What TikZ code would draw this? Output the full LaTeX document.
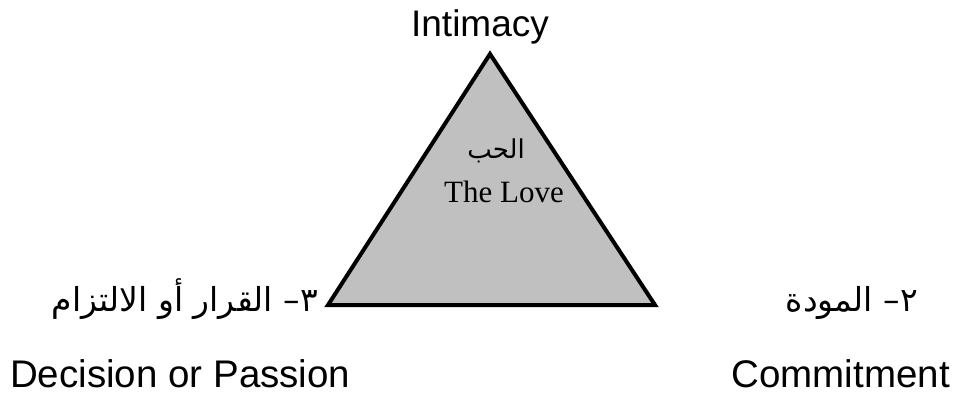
\documentclass[tikz,border=0pt]{standalone}
\usepackage{fontspec}
\setmainfont{Liberation Serif}
\newfontfamily\lsans{Liberation Sans}
\newfontfamily\arabicfont[Script=Arabic]{DejaVu Sans}
\TeXXeTstate=1
\begin{document}
\begin{tikzpicture}[x=1pt,y=-1pt,
  en/.style={font=\lsans\fontsize{38.5}{42}\selectfont, inner sep=0pt},
  ar/.style={font=\arabicfont\fontsize{33}{36}\selectfont, inner sep=0pt},
  tri/.style={draw=black, line width=4pt, fill={rgb,255:red,192;green,192;blue,192}, line join=miter}]
\useasboundingbox (0,0) rectangle (955,396);
\coordinate (apex) at (490,54);
\coordinate (bl) at (328,305);
\coordinate (br) at (655,305);
\draw[tri] (apex) -- (br) -- (bl) -- cycle;
\node[en, font=\lsans\fontsize{37}{40}\selectfont, anchor=base] (intimacy) at (480,37) {Intimacy};
\node[ar, font=\arabicfont\fontsize{26}{30}\selectfont, anchor=base] (hubb) at (496,158) {\beginR الحب\endR};
\node[font=\fontsize{31}{34}\selectfont, inner sep=0pt, anchor=base] (love) at (504,202) {The Love};
\node[ar, anchor=base east] (decar) at (318,311) {\beginR ٣– القرار أو الالتزام\endR};
\node[ar, anchor=base east] (comar) at (918,311) {\beginR ٢– المودة\endR};
\node[en, anchor=base west] (dec) at (10,387) {Decision or Passion};
\node[en, anchor=base east] (com) at (950,387) {Commitment};
\end{tikzpicture}
\end{document}
